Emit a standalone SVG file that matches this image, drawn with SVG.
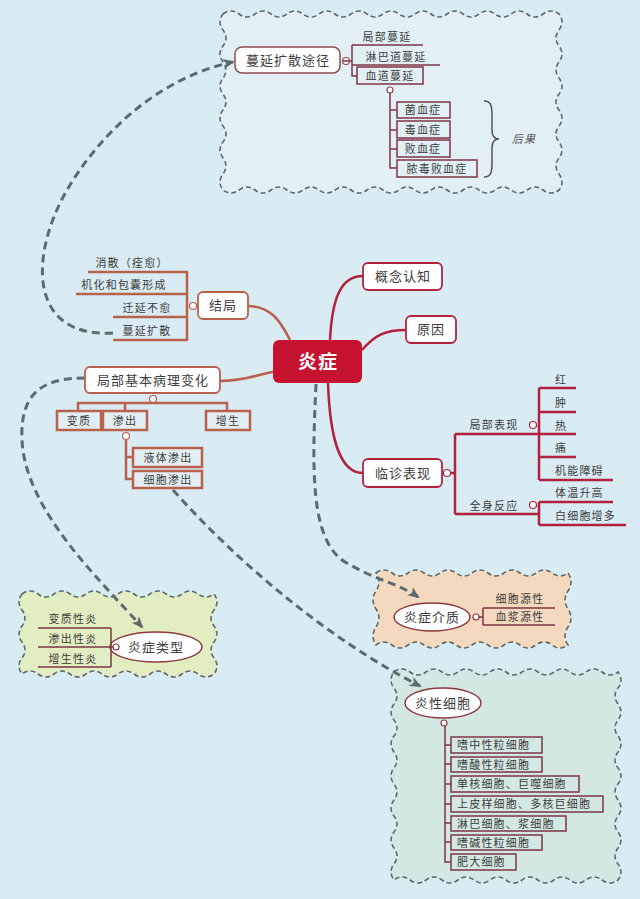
<svg xmlns="http://www.w3.org/2000/svg" width="640" height="899" viewBox="0 0 640 899">
<defs>
<style>
text{font-family:"Noto Sans CJK SC","Noto Sans",sans-serif;fill:#3d3d3d;}
.n13{font-size:13px;letter-spacing:1px;text-anchor:middle;}
.s11{font-size:11px;letter-spacing:1.2px;}
.mid{text-anchor:middle;}
.cloud{stroke:#5e6a6a;stroke-width:1.6;stroke-dasharray:5 3;}
.dash{fill:none;stroke:#5d6b70;stroke-width:3;stroke-dasharray:8 5;}
.br{fill:none;stroke:#b8614c;stroke-width:2.5;}
.brb{fill:#e2eef2;stroke:#b8614c;stroke-width:2.5;}
.cr{fill:none;stroke:#b3223d;stroke-width:2.5;}
.mr{fill:none;stroke:#7e3444;stroke-width:1.5;}
.mrb{fill:none;stroke:#7e3444;stroke-width:1.5;}
.col{fill:#fff;stroke-width:1.2;}
</style>
<marker id="arr" viewBox="0 0 12 10" refX="10" refY="5" markerWidth="12" markerHeight="10" markerUnits="userSpaceOnUse" orient="auto">
<path d="M0,0 L12,5 L0,10 L3,5 Z" fill="#5d6b70"/>
</marker>
</defs>
<rect width="640" height="899" fill="#d9ebf3"/>

<!-- clouds -->
<g id="cloud-spread">
<path class="cloud" fill="#e2f0f5" d="M223,14 q8,-6 16,0 t16,0 t16,0 t16,0 t16,0 t16,0 t16,0 t16,0 t16,0 t16,0 t16,0 t16,0 t16,0 t16,0 t16,0 t16,0 t16,0 t16,0 t16,0 t16,0 t16,0 q6,8 0,16 t0,16 t0,16 t0,16 t0,16 t0,16 t0,16 t0,16 t0,16 t0,16 t0,16 q-8,6 -16,0 t-16,0 t-16,0 t-16,0 t-16,0 t-16,0 t-16,0 t-16,0 t-16,0 t-16,0 t-16,0 t-16,0 t-16,0 t-16,0 t-16,0 t-16,0 t-16,0 t-16,0 t-16,0 t-16,0 t-16,0 q-6,-8 0,-16 t0,-16 t0,-16 t0,-16 t0,-16 t0,-16 t0,-16 t0,-16 t0,-16 t0,-16 t0,-16 Z"/>
</g>
<g id="cloud-mediator">
<path class="cloud" fill="#f5d9bf" d="M376,573 q8,-6 16,0 t16,0 t16,0 t16,0 t16,0 t16,0 t16,0 t16,0 t16,0 t16,0 t16,0 t16,0 q6,9 0,18 t0,18 t0,18 t0,18 q-8,6 -16,0 t-16,0 t-16,0 t-16,0 t-16,0 t-16,0 t-16,0 t-16,0 t-16,0 t-16,0 t-16,0 t-16,0 q-6,-9 0,-18 t0,-18 t0,-18 t0,-18 Z"/>
</g>
<g id="cloud-type">
<path class="cloud" fill="#e2edc2" d="M22,594 q8,-6 16,0 t16,0 t16,0 t16,0 t16,0 t16,0 t16,0 t16,0 t16,0 t16,0 t16,0 t16,0 q6,8 0,16 t0,16 t0,16 t0,16 t0,16 q-8,6 -16,0 t-16,0 t-16,0 t-16,0 t-16,0 t-16,0 t-16,0 t-16,0 t-16,0 t-16,0 t-16,0 t-16,0 q-6,-8 0,-16 t0,-16 t0,-16 t0,-16 t0,-16 Z"/>
</g>
<g id="cloud-cells">
<path class="cloud" fill="#d4e8e3" d="M394,672 q8,-6 16,0 t16,0 t16,0 t16,0 t16,0 t16,0 t16,0 t16,0 t16,0 t16,0 t16,0 t16,0 t16,0 t16,0 q6,8 0,16 t0,16 t0,16 t0,16 t0,16 t0,16 t0,16 t0,16 t0,16 t0,16 t0,16 t0,16 t0,16 q-8,6 -16,0 t-16,0 t-16,0 t-16,0 t-16,0 t-16,0 t-16,0 t-16,0 t-16,0 t-16,0 t-16,0 t-16,0 t-16,0 t-16,0 q-6,-8 0,-16 t0,-16 t0,-16 t0,-16 t0,-16 t0,-16 t0,-16 t0,-16 t0,-16 t0,-16 t0,-16 t0,-16 t0,-16 Z"/>
</g>

<!-- connectors -->
<g id="connectors">
<path class="br" d="M248,306 C270,306 280,320 290,340"/>
<path class="br" d="M220,381 C245,381 255,375 273,372"/>
<path class="cr" d="M330,340 C332,300 340,276 363,276"/>
<path class="cr" d="M362,350 C375,335 385,330 406,330"/>
<path class="cr" d="M328,383 C330,440 340,473 363,473"/>
<path class="dash" marker-end="url(#arr)" d="M113,333 C25,338 30,250 70,185 C110,120 170,75 233,62"/>
<path class="dash" marker-end="url(#arr)" d="M85,378 C40,378 20,395 22,440 C25,510 100,580 142,627"/>
<path class="dash" marker-end="url(#arr)" d="M173,490 C240,565 330,640 420,686"/>
<path class="dash" marker-end="url(#arr)" d="M316,384 C312,470 310,540 345,562 C375,580 400,584 418,597"/>
</g>

<!-- center -->
<g id="center">
<rect x="273" y="340" width="89" height="43" rx="6" fill="#c5122f"/>
<text x="318" y="369" class="mid" style="font-size:19px;font-weight:bold;fill:#fff;letter-spacing:1px">炎症</text>
</g>

<!-- spread -->
<g id="node-spread">
<rect x="235" y="47" width="105" height="26" rx="7" fill="#fff" stroke="#8e4a4e" stroke-width="1.5"/>
<text x="288" y="65" class="n13">蔓延扩散途径</text>
<circle cx="346" cy="61" r="3.5" class="col" stroke="#8e4a4e"/>
<path class="mr" d="M343,61 L352,61 M352,45 L352,76 L357,76 M352,45 L423,45 M352,65 L440,65"/>
<text x="387" y="41" class="s11 mid">局部蔓延</text>
<text x="396" y="61" class="s11 mid">淋巴道蔓延</text>
<rect x="357" y="67" width="66" height="17" class="mrb"/>
<text x="390" y="80" class="s11 mid">血道蔓延</text>
<circle cx="390" cy="90" r="3" class="col" stroke="#8e4a4e"/>
<path class="mr" d="M390,93 L390,168 L397,168 M390,110 L397,110 M390,130 L397,130 M390,149 L397,149"/>
<rect x="397" y="102" width="53" height="16" class="mrb"/>
<text x="423" y="114" class="s11 mid">菌血症</text>
<rect x="397" y="121" width="53" height="17" class="mrb"/>
<text x="423" y="134" class="s11 mid">毒血症</text>
<rect x="397" y="140" width="53" height="17" class="mrb"/>
<text x="423" y="153" class="s11 mid">败血症</text>
<rect x="397" y="160" width="80" height="17" class="mrb"/>
<text x="437" y="173" class="s11 mid">脓毒败血症</text>
<path d="M484,101 C491,101 492,106 492,115 L492,130 C492,136 494,139 499,139 C494,139 492,142 492,148 L492,163 C492,172 491,177 484,177" fill="none" stroke="#555" stroke-width="1.5"/>
<text x="524" y="143" class="s11 mid" style="font-style:italic;fill:#555">后果</text>
</g>

<!-- outcome -->
<g id="node-outcome">
<rect x="198" y="292" width="50" height="27" rx="5" fill="#fff" stroke="#b8614c" stroke-width="1.8"/>
<text x="223" y="310" class="n13">结局</text>
<circle cx="193" cy="306" r="3.5" class="col" stroke="#b8614c"/>
<path class="br" d="M187,271 L187,341 M88,272 L187,272 M76,294 L187,294 M113,317 L187,317 M113,340 L187,340"/>
<text x="132" y="267" class="s11 mid">消散（痊愈）</text>
<text x="124" y="289" class="s11 mid">机化和包囊形成</text>
<text x="147" y="312" class="s11 mid">迁延不愈</text>
<text x="147" y="335" class="s11 mid">蔓延扩散</text>
</g>

<!-- local changes -->
<g id="node-local">
<rect x="85" y="367" width="135" height="26" rx="5" fill="#fff" stroke="#b8614c" stroke-width="1.8"/>
<text x="153" y="385" class="n13">局部基本病理变化</text>
<circle cx="153" cy="399" r="3.5" class="col" stroke="#b8614c"/>
<path class="br" d="M78,411 L78,403 L227,403 L227,411 M125,403 L125,411"/>
<rect x="57" y="411" width="44" height="19" class="brb"/>
<text x="79" y="425" class="s11 mid">变质</text>
<rect x="103" y="411" width="44" height="19" class="brb"/>
<text x="125" y="425" class="s11 mid">渗出</text>
<rect x="206" y="411" width="44" height="19" class="brb"/>
<text x="228" y="425" class="s11 mid">增生</text>
<circle cx="126" cy="436" r="3.5" class="col" stroke="#b8614c"/>
<path class="br" d="M126,440 L126,479 L133,479 M126,457 L133,457"/>
<rect x="133" y="448" width="69" height="19" class="brb"/>
<text x="168" y="462" class="s11 mid">液体渗出</text>
<rect x="133" y="471" width="69" height="17" class="brb"/>
<text x="168" y="484" class="s11 mid">细胞渗出</text>
</g>

<!-- right nodes -->
<g id="node-concept">
<rect x="363" y="263" width="79" height="27" rx="5" fill="#fff" stroke="#b3223d" stroke-width="1.8"/>
<text x="403" y="281" class="n13">概念认知</text>
</g>
<g id="node-cause">
<rect x="406" y="316" width="50" height="27" rx="5" fill="#fff" stroke="#b3223d" stroke-width="1.8"/>
<text x="431" y="334" class="n13">原因</text>
</g>
<g id="node-clinical">
<rect x="363" y="459" width="79" height="28" rx="5" fill="#fff" stroke="#b3223d" stroke-width="1.8"/>
<text x="403" y="478" class="n13">临诊表现</text>
<circle cx="447" cy="473" r="3.5" class="col" stroke="#b3223d"/>
<path class="cr" d="M451,473 L455,473 M455,434 L455,514 M455,434 L538,434 M455,514 L538,514"/>
<text x="494" y="429" class="s11 mid">局部表现</text>
<text x="494" y="510" class="s11 mid">全身反应</text>
<circle cx="533" cy="425" r="3.5" class="col" stroke="#b3223d"/>
<circle cx="533" cy="505" r="3.5" class="col" stroke="#b3223d"/>
<path class="cr" d="M539,388 L539,480 M539,388 L576,388 M539,412 L576,412 M539,434 L576,434 M539,457 L576,457 M539,480 L613,480 M539,502 L539,525 M539,502 L613,502 M539,525 L626,525"/>
<text x="555" y="384" class="s11">红</text>
<text x="555" y="407" class="s11">肿</text>
<text x="555" y="430" class="s11">热</text>
<text x="555" y="452" class="s11">痛</text>
<text x="555" y="475" class="s11">机能障碍</text>
<text x="555" y="497" class="s11">体温升高</text>
<text x="555" y="520" class="s11">白细胞增多</text>
</g>

<!-- mediator -->
<g id="node-mediator">
<ellipse cx="432" cy="617" rx="38" ry="14" fill="#fff" stroke="#8e3a3e" stroke-width="1.5"/>
<text x="432" y="622" class="n13">炎症介质</text>
<circle cx="476" cy="617" r="3" class="col" stroke="#8e3a3e"/>
<path class="mr" d="M479,617 L483,617 M483,608 L483,625 M483,608 L555,608 M483,625 L555,625"/>
<text x="520" y="603" class="s11 mid">细胞源性</text>
<text x="520" y="621" class="s11 mid">血浆源性</text>
</g>

<!-- types -->
<g id="node-types">
<ellipse cx="156" cy="647" rx="46" ry="15" fill="#fff" stroke="#8e3a3e" stroke-width="1.5"/>
<text x="156" y="652" class="n13">炎症类型</text>
<circle cx="116" cy="647" r="3" class="col" stroke="#8e3a3e"/>
<path class="mr" d="M113,647 L111,647 M111,628 L111,667 M38,628 L111,628 M38,647 L111,647 M38,667 L111,667"/>
<text x="73" y="623" class="s11 mid">变质性炎</text>
<text x="73" y="643" class="s11 mid">渗出性炎</text>
<text x="73" y="663" class="s11 mid">增生性炎</text>
</g>

<!-- cells -->
<g id="node-cells">
<ellipse cx="443" cy="703" rx="38" ry="15" fill="#fff" stroke="#8e3a3e" stroke-width="1.5"/>
<text x="443" y="708" class="n13">炎性细胞</text>
<circle cx="444" cy="723" r="3" class="col" stroke="#8e3a3e"/>
<path class="mr" d="M445,726 L445,862 L451,862 M445,745 L451,745 M445,764 L451,764 M445,784 L451,784 M445,804 L451,804 M445,823 L451,823 M445,842 L451,842"/>
<rect x="451" y="737" width="91" height="16" class="mrb"/>
<text x="457" y="749" class="s11">嗜中性粒细胞</text>
<rect x="451" y="757" width="91" height="15" class="mrb"/>
<text x="457" y="769" class="s11">嗜酸性粒细胞</text>
<rect x="451" y="776" width="128" height="16" class="mrb"/>
<text x="457" y="788" class="s11">单核细胞、巨噬细胞</text>
<rect x="451" y="796" width="152" height="16" class="mrb"/>
<text x="457" y="808" class="s11">上皮样细胞、多核巨细胞</text>
<rect x="451" y="816" width="115" height="15" class="mrb"/>
<text x="457" y="828" class="s11">淋巴细胞、浆细胞</text>
<rect x="451" y="835" width="91" height="15" class="mrb"/>
<text x="457" y="847" class="s11">嗜碱性粒细胞</text>
<rect x="451" y="854" width="65" height="16" class="mrb"/>
<text x="457" y="866" class="s11">肥大细胞</text>
</g>
</svg>
